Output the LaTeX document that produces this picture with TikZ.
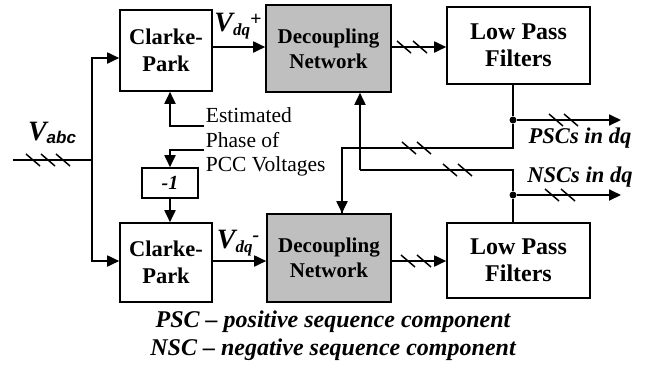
\documentclass[tikz,border=0pt]{standalone}
\usepackage{fontspec}
\setmainfont{Liberation Serif}
\newfontfamily\sansbf{Liberation Sans}
\usetikzlibrary{arrows.meta,positioning}

\newcommand{\subsz}{\fontsize{17}{17}\selectfont}

\begin{document}
\begin{tikzpicture}[x=1pt,y=-1pt,>={Triangle[length=12pt,width=11pt]},line width=1.8pt,
  block/.style={draw,line width=1.6pt,align=center,inner sep=0pt,font=\fontsize{22.5}{27}\selectfont\bfseries},
  grey block/.style={block,fill=black!25,font=\fontsize{21}{25}\selectfont\bfseries},
  filter/.style={block,font=\fontsize{24}{27}\selectfont\bfseries},
  lbl/.style={inner sep=0pt,font=\fontsize{22.5}{26}\selectfont\bfseries\itshape},
  dot/.style={circle,fill,inner sep=0pt,minimum size=7pt},
  pics/slash/.style={code={\draw[-,line width=1.5pt] (-7,-6) -- (7,6);}}]

    \useasboundingbox (0,0) rectangle (659,368);

    % upper path
    \node[block,minimum width=92pt,minimum height=81pt] (cp1) at (166,50.5) {Clarke-\\Park};
    \node[grey block,minimum width=125pt,minimum height=87pt] (dn1) at (328.5,48.5) {Decoupling\\Network};
    \node[filter,minimum width=143pt,minimum height=77pt] (lp1) at (518.5,45.5) {Low Pass\\Filters};

    % lower path
    \node[block,minimum width=92pt,minimum height=79pt] (cp2) at (166,262.5) {Clarke-\\Park};
    \node[grey block,minimum width=124pt,minimum height=88pt] (dn2) at (329,258) {Decoupling\\Network};
    \node[filter,minimum width=143pt,minimum height=75pt] (lp2) at (518.5,260.5) {Low Pass\\Filters};

    \node[block,font=\fontsize{20}{20}\selectfont\bfseries\itshape,minimum width=56pt,minimum height=30pt] (neg) at (170,183) {-1};

    \node[anchor=north west,align=left,inner sep=0pt,font=\fontsize{21.5}{24.5}\selectfont] (est) at (205,107)
        {Estimated\\Phase of\\PCC Voltages};

    % labels
    \node[lbl] (vabc) at (52,133) {{\fontsize{28}{28}\selectfont V}\raisebox{-3pt}{\sansbf\subsz abc}};
    \node[lbl] (vp) at (238,26) {{\fontsize{28}{28}\selectfont V}\raisebox{-4pt}{\subsz dq}\raisebox{6pt}{\fontsize{20}{20}\selectfont +}};
    \node[lbl] (vn) at (238,243) {{\fontsize{28}{28}\selectfont V}\raisebox{-4pt}{\subsz dq}\raisebox{7pt}{\fontsize{20}{20}\selectfont -}};
    \node[lbl] (psc) at (580,138) {PSCs in dq};
    \node[lbl] (nsc) at (580,177) {NSCs in dq};

    \node[lbl,align=center,font=\fontsize{24}{28}\selectfont\bfseries\itshape] (note) at (333,336)
        {PSC -- positive sequence component\\NSC -- negative sequence component};

    % junctions
    \coordinate (in) at (13,160);
    \coordinate (split) at (92,160);
    \node[dot] (j1) at (513,120) {};
    \node[dot] (j2) at (513,195) {};
    \coordinate (out1) at (621,120);
    \coordinate (out2) at (621,195);

    % input
    \draw (in) -- (split);
    \draw[->] (split) |- (cp1.west |- 0,58);
    \draw[->] (split) |- (cp2.west |- 0,261);
    \foreach \x in {33,48,63} \pic at (\x,160) {slash};

    % forward paths
    \draw[->] (cp1.east |- 0,47) -- (dn1.west |- 0,47);
    \draw[->] (dn1.east |- 0,47) -- (lp1.west |- 0,47);
    \draw[->] (cp2.east |- 0,261) -- (dn2.west |- 0,261);
    \draw[->] (dn2.east |- 0,261) -- (lp2.west |- 0,261);
    \foreach \x in {404,420} \pic at (\x,47) {slash};
    \foreach \x in {408,424} \pic at (\x,261) {slash};

    % phase
    \draw[->] (204,126) -| (cp1.south -| 170,0);
    \draw[->] (204,150) -| (neg.north);
    \draw[->] (neg.south) -- (cp2.north -| neg.south);

    % outputs and feedback
    \draw (lp1.south -| j1) -- (j1) -- (513,148) -| (342,214);
    \draw[->] (342,148) -- (dn2.north -| 342,0);
    \draw (lp2.north -| j2) -- (j2) -- (513,170) -- (360,170);
    \draw[->] (360,170) -- (dn1.south -| 360,0);
    \draw[->] (j1) -- (out1);
    \draw[->] (j2) -- (out2);
    \foreach \x in {409,424} \pic at (\x,148) {slash};
    \foreach \x in {450,465} \pic at (\x,170) {slash};
    \foreach \x in {556,571} \pic at (\x,120) {slash};
    \foreach \x in {552,568} \pic at (\x,195) {slash};

\end{tikzpicture}
\end{document}
